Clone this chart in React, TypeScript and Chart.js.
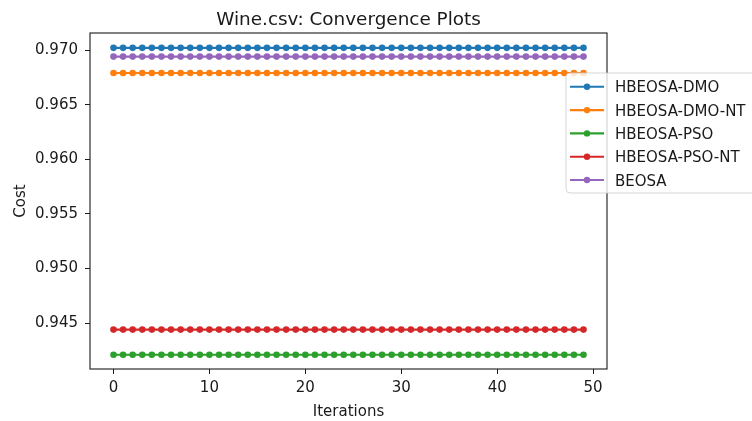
import React, { useEffect, useRef } from "react";
import { Chart, registerables } from "chart.js";

Chart.register(...registerables);

// Iterations 0..49 and the (flat) best cost of each optimiser
const ITERATIONS: number[] = Array.from({ length: 50 }, (_, i) => i);
const SERIES_NAMES = ["HBEOSA-DMO", "HBEOSA-DMO-NT", "HBEOSA-PSO", "HBEOSA-PSO-NT", "BEOSA"];
const SERIES_COST = [0.9702, 0.9679, 0.9421, 0.9444, 0.9694];
const SERIES_COLORS = ["#1f77b4", "#ff7f0e", "#2ca02c", "#d62728", "#9467bd"];
const X_TICKS = [0, 10, 20, 30, 40, 50];
const Y_TICKS = [0.945, 0.95, 0.955, 0.96, 0.965, 0.97];

const TITLE = "Wine.csv: Convergence Plots";
const X_LABEL = "Iterations";
const Y_LABEL = "Cost";

const FONT = "'DejaVu Sans', 'Liberation Sans', sans-serif";

const overlay = {
  id: "mplOverlay",
  afterDraw(chart: any) {
    const { ctx, chartArea: a } = chart;
    ctx.save();
    // axes frame
    ctx.strokeStyle = "#1a1a1a";
    ctx.lineWidth = 1.1;
    ctx.strokeRect(a.left, a.top, a.right - a.left, a.bottom - a.top);

    // title and axis labels
    ctx.fillStyle = "#1a1a1a";
    ctx.textAlign = "center";
    ctx.textBaseline = "alphabetic";
    ctx.font = `18.4px ${FONT}`;
    ctx.fillText(TITLE, (a.left + a.right) / 2, 25);
    ctx.font = `15px ${FONT}`;
    ctx.fillText(X_LABEL, (a.left + a.right) / 2, 416);
    ctx.save();
    ctx.translate(25, (a.top + a.bottom) / 2);
    ctx.rotate(-Math.PI / 2);
    ctx.fillText(Y_LABEL, 0, 0);
    ctx.restore();

    // legend
    const lx = 566, ly = 73, lw = 200, lh = 120, r = 4;
    ctx.beginPath();
    ctx.moveTo(lx + r, ly);
    ctx.lineTo(lx + lw - r, ly);
    ctx.arcTo(lx + lw, ly, lx + lw, ly + r, r);
    ctx.lineTo(lx + lw, ly + lh - r);
    ctx.arcTo(lx + lw, ly + lh, lx + lw - r, ly + lh, r);
    ctx.lineTo(lx + r, ly + lh);
    ctx.arcTo(lx, ly + lh, lx, ly + lh - r, r);
    ctx.lineTo(lx, ly + r);
    ctx.arcTo(lx, ly, lx + r, ly, r);
    ctx.closePath();
    ctx.fillStyle = "rgba(255,255,255,0.8)";
    ctx.fill();
    ctx.strokeStyle = "rgba(204,204,204,0.8)";
    ctx.lineWidth = 1;
    ctx.stroke();

    ctx.textAlign = "left";
    SERIES_NAMES.forEach((name, i) => {
      const y = 86.8 + i * 23.3;
      ctx.strokeStyle = SERIES_COLORS[i];
      ctx.lineWidth = 2.1;
      ctx.beginPath();
      ctx.moveTo(570, y);
      ctx.lineTo(604, y);
      ctx.stroke();
      ctx.fillStyle = SERIES_COLORS[i];
      ctx.beginPath();
      ctx.arc(587, y, 3.2, 0, Math.PI * 2);
      ctx.fill();
      ctx.fillStyle = "#1a1a1a";
      ctx.font = `15px ${FONT}`;
      ctx.fillText(name, 615, y + 5.5);
    });
    ctx.restore();
  },
};

export default function App() {
  const canvasRef = useRef<HTMLCanvasElement | null>(null);

  useEffect(() => {
    if (!canvasRef.current) return;
    const datasets = SERIES_NAMES.map((name, i) => ({
      label: name,
      data: ITERATIONS.map((it) => ({ x: it, y: SERIES_COST[i] })),
      borderColor: SERIES_COLORS[i],
      backgroundColor: SERIES_COLORS[i],
      borderWidth: 2.1,
      pointRadius: 3.3,
      pointHoverRadius: 3.3,
      pointBorderWidth: 0,
      fill: false,
    }));

    const tickFont = { family: FONT, size: 15 };
    const chart = new Chart(canvasRef.current, {
      type: "line",
      data: { datasets },
      plugins: [overlay],
      options: {
        animation: false,
        responsive: false,
        events: [],
        layout: { padding: { left: 0, top: 33, right: 145, bottom: 0 } },
        plugins: { legend: { display: false }, title: { display: false }, tooltip: { enabled: false } },
        scales: {
          x: {
            type: "linear",
            min: -2.45,
            max: 51.45,
            afterFit: (s: any) => { s.height = 52; },
            afterBuildTicks: (s: any) => { s.ticks = X_TICKS.map((v) => ({ value: v })); },
            border: { display: false },
            grid: { drawOnChartArea: false, drawTicks: true, tickLength: 5, color: "#1a1a1a", tickWidth: 1 },
            ticks: { font: tickFont, color: "#1a1a1a", padding: 5, maxRotation: 0, callback: (v: any) => String(v) },
          },
          y: {
            type: "linear",
            min: 0.94079,
            max: 0.97156,
            afterFit: (s: any) => { s.width = 90; },
            afterBuildTicks: (s: any) => { s.ticks = Y_TICKS.map((v) => ({ value: v })); },
            border: { display: false },
            grid: { drawOnChartArea: false, drawTicks: true, tickLength: 5, color: "#1a1a1a", tickWidth: 1 },
            ticks: { font: tickFont, color: "#1a1a1a", padding: 7, callback: (v: any) => Number(v).toFixed(3) },
          },
        },
      },
    } as any);
    return () => chart.destroy();
  }, []);

  return (
    <div style={{ position: "fixed", left: 0, top: 0, width: 752, height: 421, background: "#fff" }}>
      <canvas ref={canvasRef} width={752} height={421} style={{ display: "block", width: 752, height: 421 }} />
    </div>
  );
}
